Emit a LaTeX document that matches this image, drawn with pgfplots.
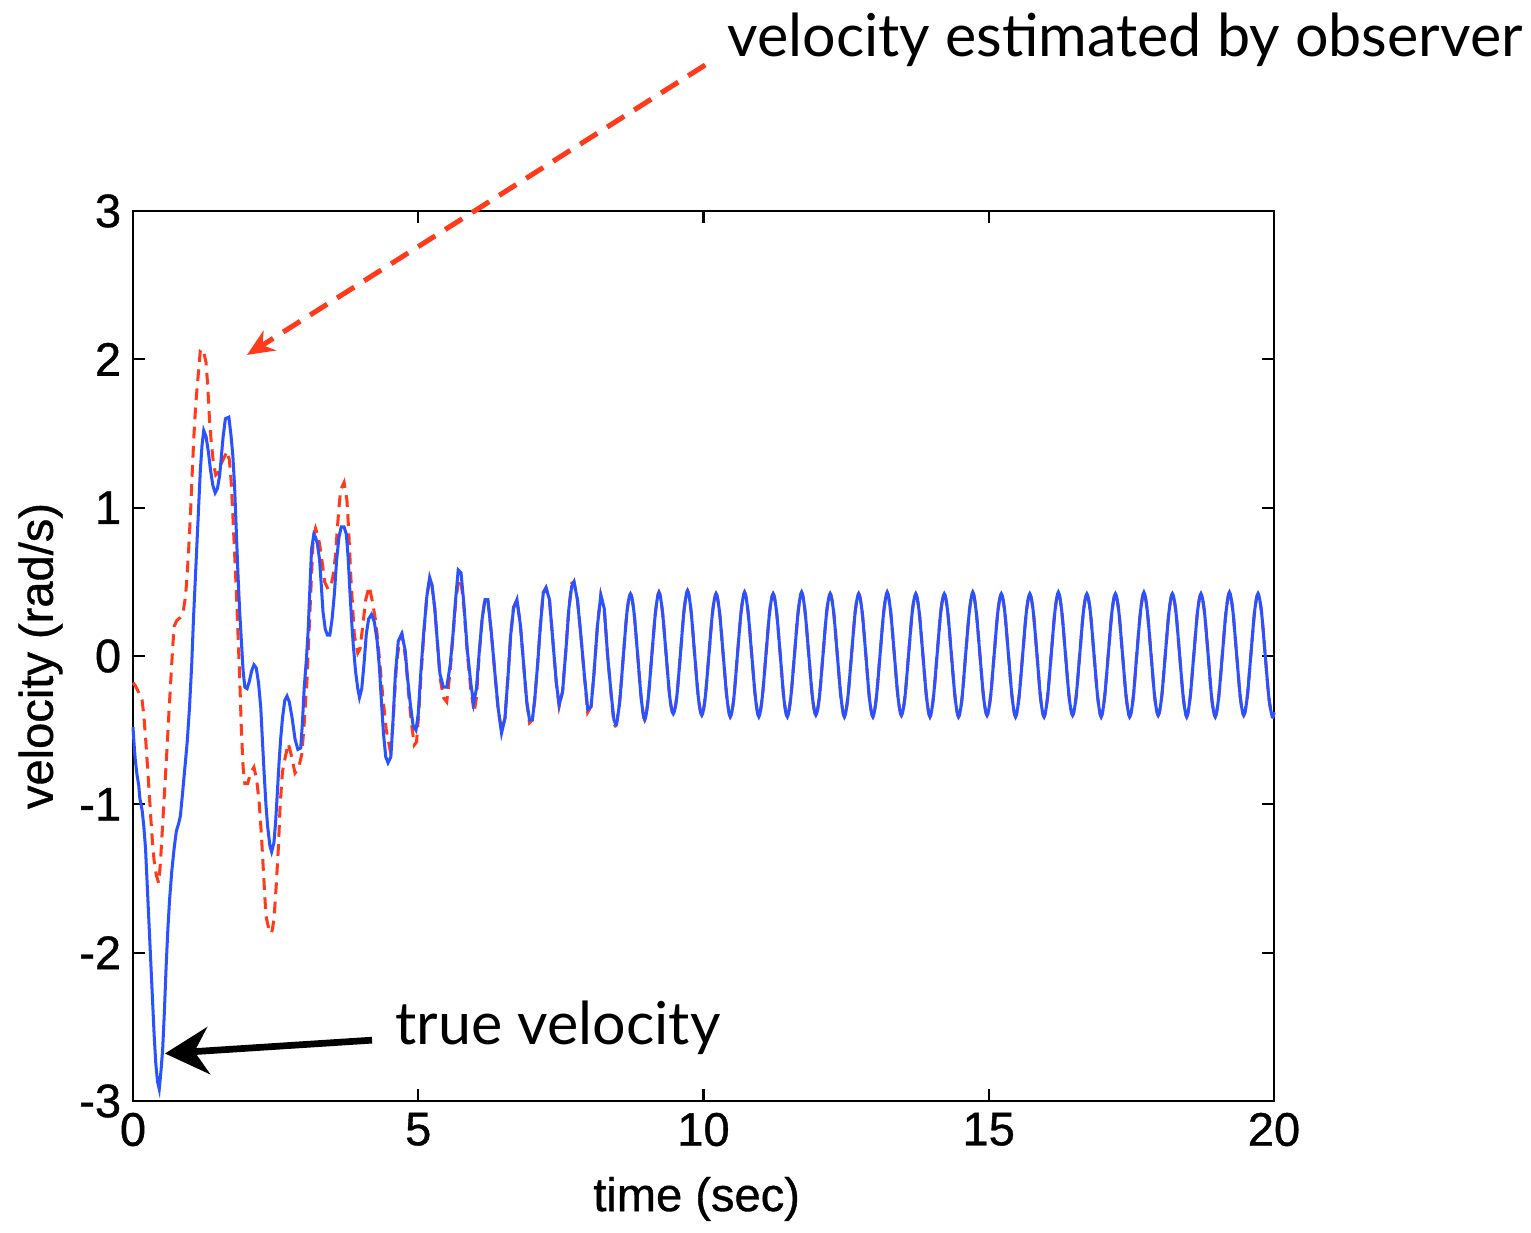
\documentclass[border=0pt]{standalone}
\usepackage{fontspec}
\setmainfont{Liberation Sans}
\newfontfamily\tickfont[FakeBold=0.8]{Liberation Sans}
\newfontfamily\notefont{Lato}
\usepackage{pgfplots}
\usepackage{pgfplotstable}
\pgfplotsset{compat=1.18}
\usetikzlibrary{arrows.meta,calc}
\definecolor{trueblue}{HTML}{2A52FF}
\definecolor{estred}{HTML}{FF3B1B}

% true velocity, transient part
\pgfplotstableread[row sep=\\]{
t v\\
0.00 -0.48\\ 0.02 -0.60\\ 0.04 -0.70\\ 0.07 -0.80\\ 0.10 -0.87\\ 0.12 -0.96\\ 0.16 -1.04\\ 0.19 -1.15\\
0.22 -1.30\\ 0.25 -1.55\\ 0.28 -1.80\\ 0.31 -2.05\\ 0.34 -2.30\\ 0.37 -2.55\\ 0.40 -2.75\\ 0.43 -2.87\\
0.46 -2.92\\ 0.49 -2.80\\ 0.52 -2.65\\ 0.55 -2.40\\ 0.58 -2.10\\ 0.61 -1.85\\ 0.64 -1.65\\ 0.68 -1.45\\
0.72 -1.30\\ 0.76 -1.18\\ 0.80 -1.13\\ 0.83 -1.08\\ 0.87 -0.92\\ 0.91 -0.75\\ 0.95 -0.58\\ 0.99 -0.35\\
1.03 -0.05\\ 1.06 0.25\\ 1.09 0.50\\ 1.12 0.75\\ 1.15 1.00\\ 1.18 1.25\\ 1.21 1.42\\ 1.24 1.52\\
1.28 1.48\\ 1.32 1.38\\ 1.36 1.25\\ 1.40 1.15\\ 1.44 1.10\\ 1.48 1.13\\ 1.52 1.22\\ 1.55 1.35\\
1.58 1.48\\ 1.62 1.60\\ 1.68 1.61\\ 1.72 1.48\\ 1.75 1.35\\ 1.78 1.15\\ 1.81 0.85\\ 1.84 0.55\\
1.87 0.30\\ 1.90 0.10\\ 1.93 -0.10\\ 1.96 -0.21\\ 2.00 -0.22\\ 2.04 -0.17\\ 2.08 -0.10\\ 2.12 -0.06\\
2.16 -0.08\\ 2.20 -0.18\\ 2.24 -0.35\\ 2.27 -0.58\\ 2.30 -0.80\\ 2.33 -1.00\\ 2.36 -1.15\\ 2.40 -1.28\\
2.43 -1.32\\ 2.47 -1.26\\ 2.50 -1.12\\ 2.53 -0.92\\ 2.56 -0.72\\ 2.59 -0.55\\ 2.62 -0.42\\ 2.66 -0.30\\
2.70 -0.27\\ 2.74 -0.31\\ 2.79 -0.42\\ 2.84 -0.56\\ 2.89 -0.63\\ 2.94 -0.62\\ 2.97 -0.45\\ 3.00 -0.22\\
3.04 -0.02\\ 3.07 0.17\\ 3.10 0.45\\ 3.13 0.72\\ 3.17 0.82\\ 3.20 0.80\\ 3.23 0.76\\ 3.27 0.65\\
3.30 0.48\\ 3.33 0.30\\ 3.37 0.18\\ 3.41 0.14\\ 3.45 0.14\\ 3.49 0.25\\ 3.53 0.42\\ 3.57 0.65\\
3.61 0.80\\ 3.65 0.87\\ 3.70 0.87\\ 3.74 0.82\\ 3.77 0.67\\ 3.80 0.45\\ 3.83 0.25\\ 3.86 0.08\\
3.90 -0.10\\ 3.94 -0.22\\ 3.97 -0.28\\ 4.01 -0.22\\ 4.05 -0.05\\ 4.09 0.15\\ 4.13 0.25\\ 4.18 0.28\\
4.23 0.23\\ 4.28 0.10\\ 4.32 -0.08\\ 4.35 -0.28\\ 4.39 -0.52\\ 4.43 -0.68\\ 4.47 -0.72\\ 4.52 -0.68\\
4.56 -0.42\\ 4.60 -0.12\\ 4.65 0.10\\ 4.71 0.15\\ 4.77 0.04\\ 4.81 -0.14\\ 4.86 -0.32\\ 4.91 -0.47\\
4.96 -0.50\\ 5.00 -0.39\\ 5.04 -0.14\\ 5.09 0.13\\ 5.15 0.40\\ 5.20 0.53\\ 5.24 0.48\\ 5.29 0.32\\
5.33 0.12\\ 5.38 -0.12\\ 5.44 -0.21\\ 5.50 -0.21\\ 5.56 -0.06\\ 5.61 0.15\\ 5.65 0.36\\ 5.70 0.58\\
5.75 0.56\\ 5.80 0.35\\ 5.86 0.04\\ 5.92 -0.18\\ 5.97 -0.32\\ 6.02 -0.22\\ 6.07 0.03\\ 6.12 0.25\\
6.17 0.38\\ 6.22 0.38\\ 6.28 0.16\\ 6.34 -0.10\\ 6.40 -0.35\\ 6.46 -0.52\\ 6.52 -0.42\\ 6.58 -0.10\\
6.62 0.14\\ 6.67 0.32\\ 6.73 0.38\\ 6.79 0.21\\ 6.85 -0.07\\ 6.90 -0.30\\ 6.95 -0.43\\ 7.00 -0.43\\
7.04 -0.30\\ 7.09 -0.07\\ 7.14 0.20\\ 7.19 0.42\\ 7.24 0.46\\ 7.30 0.38\\ 7.36 0.10\\ 7.42 -0.18\\
7.47 -0.33\\ 7.53 -0.24\\ 7.59 0.05\\ 7.64 0.32\\ 7.69 0.47\\ 7.73 0.50\\ 7.79 0.38\\ 7.85 0.14\\
7.91 -0.12\\ 7.97 -0.36\\ 8.03 -0.34\\ 8.08 -0.12\\ 8.14 0.20\\ 8.20 0.41\\ 8.26 0.32\\ 8.32 0.00\\
8.38 -0.25\\ 8.43 -0.43\\ 8.47 -0.47\\
}\truetab

% observer estimate, transient part
\pgfplotstableread[row sep=\\]{
t v\\
0.00 -0.18\\ 0.04 -0.20\\ 0.08 -0.23\\ 0.12 -0.26\\ 0.16 -0.30\\ 0.19 -0.40\\ 0.22 -0.55\\ 0.25 -0.72\\
0.28 -0.90\\ 0.31 -1.08\\ 0.34 -1.25\\ 0.37 -1.38\\ 0.41 -1.48\\ 0.45 -1.53\\ 0.48 -1.40\\ 0.51 -1.20\\
0.54 -1.00\\ 0.57 -0.80\\ 0.60 -0.60\\ 0.63 -0.38\\ 0.66 -0.18\\ 0.69 0.02\\ 0.72 0.20\\ 0.77 0.24\\
0.83 0.26\\ 0.88 0.30\\ 0.92 0.40\\ 0.95 0.55\\ 0.98 0.75\\ 1.01 0.98\\ 1.04 1.25\\ 1.07 1.50\\
1.10 1.70\\ 1.14 1.88\\ 1.18 2.06\\ 1.21 2.07\\ 1.25 2.03\\ 1.28 1.98\\ 1.31 1.82\\ 1.34 1.60\\
1.37 1.45\\ 1.41 1.30\\ 1.45 1.22\\ 1.50 1.24\\ 1.55 1.30\\ 1.60 1.34\\ 1.65 1.38\\ 1.69 1.32\\
1.72 1.18\\ 1.75 0.95\\ 1.78 0.70\\ 1.81 0.45\\ 1.84 0.15\\ 1.87 -0.15\\ 1.90 -0.50\\ 1.93 -0.75\\
1.96 -0.86\\ 2.01 -0.86\\ 2.06 -0.79\\ 2.12 -0.75\\ 2.17 -0.84\\ 2.21 -0.98\\ 2.25 -1.20\\ 2.29 -1.48\\
2.33 -1.75\\ 2.38 -1.84\\ 2.43 -1.87\\ 2.47 -1.78\\ 2.51 -1.55\\ 2.55 -1.28\\ 2.58 -1.00\\ 2.62 -0.78\\
2.67 -0.68\\ 2.72 -0.59\\ 2.77 -0.66\\ 2.84 -0.79\\ 2.90 -0.76\\ 2.96 -0.66\\ 3.00 -0.46\\ 3.05 -0.16\\
3.09 0.20\\ 3.13 0.55\\ 3.16 0.80\\ 3.20 0.86\\ 3.25 0.80\\ 3.30 0.68\\ 3.36 0.50\\ 3.42 0.45\\
3.47 0.47\\ 3.51 0.55\\ 3.55 0.68\\ 3.58 0.85\\ 3.61 1.00\\ 3.64 1.12\\ 3.70 1.17\\ 3.75 1.05\\
3.78 0.85\\ 3.82 0.52\\ 3.88 0.14\\ 3.94 0.02\\ 3.98 0.05\\ 4.02 0.18\\ 4.08 0.38\\ 4.14 0.47\\
4.20 0.36\\ 4.26 0.22\\ 4.32 -0.02\\ 4.38 -0.28\\ 4.44 -0.50\\ 4.50 -0.62\\ 4.54 -0.55\\ 4.58 -0.30\\
4.62 -0.05\\ 4.67 0.10\\ 4.72 0.14\\ 4.78 -0.02\\ 4.83 -0.25\\ 4.88 -0.45\\ 4.93 -0.60\\ 4.97 -0.58\\
5.01 -0.38\\ 5.05 -0.12\\ 5.10 0.16\\ 5.15 0.40\\ 5.20 0.52\\ 5.24 0.48\\ 5.29 0.32\\ 5.33 0.12\\
5.38 -0.14\\ 5.44 -0.28\\ 5.50 -0.31\\ 5.56 -0.10\\ 5.61 0.14\\ 5.66 0.38\\ 5.71 0.52\\ 5.75 0.50\\
5.80 0.33\\ 5.86 0.02\\ 5.92 -0.22\\ 5.98 -0.38\\ 6.02 -0.28\\ 6.07 0.02\\ 6.12 0.25\\ 6.17 0.39\\
6.22 0.38\\ 6.28 0.16\\ 6.34 -0.10\\ 6.40 -0.36\\ 6.46 -0.50\\ 6.52 -0.42\\ 6.58 -0.10\\ 6.62 0.14\\
6.67 0.33\\ 6.73 0.38\\ 6.79 0.21\\ 6.85 -0.07\\ 6.90 -0.31\\ 6.95 -0.45\\ 7.00 -0.43\\ 7.04 -0.30\\
7.09 -0.07\\ 7.14 0.20\\ 7.19 0.43\\ 7.24 0.46\\ 7.30 0.38\\ 7.36 0.10\\ 7.42 -0.18\\ 7.47 -0.34\\
7.53 -0.24\\ 7.59 0.05\\ 7.64 0.32\\ 7.69 0.49\\ 7.73 0.50\\ 7.79 0.38\\ 7.85 0.14\\ 7.91 -0.13\\
7.97 -0.38\\ 8.03 -0.34\\ 8.08 -0.12\\ 8.14 0.20\\ 8.20 0.41\\ 8.26 0.32\\ 8.32 0.00\\ 8.38 -0.26\\
8.43 -0.46\\ 8.47 -0.48\\
}\esttab

% steady oscillation, both curves lie on top of each other
\pgfplotstableread[row sep=\\]{
t v\\
8.47 -0.47\\ 8.53 -0.31\\ 8.595 0.00\\ 8.66 0.30\\
8.72 0.42\\ 8.78 0.30\\ 8.845 0.01\\ 8.91 -0.29\\ 8.97 -0.43\\ 9.03 -0.29\\ 9.095 0.01\\ 9.16 0.30\\
9.22 0.43\\ 9.28 0.30\\ 9.345 0.01\\ 9.41 -0.28\\ 9.47 -0.39\\ 9.53 -0.28\\ 9.595 0.01\\ 9.66 0.31\\
9.72 0.44\\ 9.78 0.31\\ 9.845 0.01\\ 9.91 -0.28\\ 9.97 -0.40\\ 10.03 -0.28\\ 10.095 0.01\\ 10.16 0.30\\
10.22 0.42\\ 10.28 0.30\\ 10.345 0.01\\ 10.41 -0.28\\ 10.47 -0.41\\ 10.53 -0.29\\ 10.595 0.01\\ 10.66 0.30\\
10.72 0.43\\ 10.78 0.30\\ 10.845 0.01\\ 10.91 -0.28\\ 10.97 -0.41\\ 11.03 -0.28\\ 11.095 0.01\\ 11.16 0.30\\
11.22 0.42\\ 11.28 0.30\\ 11.345 0.01\\ 11.41 -0.29\\ 11.47 -0.41\\ 11.53 -0.28\\ 11.595 0.01\\ 11.66 0.30\\
11.72 0.43\\ 11.78 0.30\\ 11.845 0.01\\ 11.91 -0.28\\ 11.97 -0.40\\ 12.03 -0.28\\ 12.095 0.01\\ 12.16 0.30\\
12.22 0.42\\ 12.28 0.30\\ 12.345 0.01\\ 12.41 -0.28\\ 12.47 -0.41\\ 12.53 -0.28\\ 12.595 0.01\\ 12.66 0.30\\
12.72 0.42\\ 12.78 0.30\\ 12.845 0.01\\ 12.91 -0.29\\ 12.97 -0.41\\ 13.03 -0.28\\ 13.095 0.01\\ 13.16 0.30\\
13.22 0.43\\ 13.28 0.30\\ 13.345 0.01\\ 13.41 -0.28\\ 13.47 -0.40\\ 13.53 -0.28\\ 13.595 0.01\\ 13.66 0.30\\
13.72 0.42\\ 13.78 0.30\\ 13.845 0.01\\ 13.91 -0.28\\ 13.97 -0.41\\ 14.03 -0.28\\ 14.095 0.01\\ 14.16 0.30\\
14.22 0.42\\ 14.28 0.30\\ 14.345 0.01\\ 14.41 -0.28\\ 14.47 -0.41\\ 14.53 -0.29\\ 14.595 0.01\\ 14.66 0.30\\
14.72 0.43\\ 14.78 0.30\\ 14.845 0.01\\ 14.91 -0.28\\ 14.97 -0.40\\ 15.03 -0.28\\ 15.095 0.01\\ 15.16 0.30\\
15.22 0.42\\ 15.28 0.30\\ 15.345 0.01\\ 15.41 -0.28\\ 15.47 -0.41\\ 15.53 -0.28\\ 15.595 0.01\\ 15.66 0.30\\
15.72 0.42\\ 15.78 0.30\\ 15.845 0.01\\ 15.91 -0.29\\ 15.97 -0.41\\ 16.03 -0.28\\ 16.095 0.01\\ 16.16 0.30\\
16.22 0.43\\ 16.28 0.30\\ 16.345 0.01\\ 16.41 -0.28\\ 16.47 -0.40\\ 16.53 -0.28\\ 16.595 0.01\\ 16.66 0.30\\
16.72 0.42\\ 16.78 0.30\\ 16.845 0.01\\ 16.91 -0.28\\ 16.97 -0.41\\ 17.03 -0.28\\ 17.095 0.01\\ 17.16 0.30\\
17.22 0.42\\ 17.28 0.30\\ 17.345 0.01\\ 17.41 -0.28\\ 17.47 -0.41\\ 17.53 -0.29\\ 17.595 0.01\\ 17.66 0.30\\
17.72 0.43\\ 17.78 0.30\\ 17.845 0.01\\ 17.91 -0.28\\ 17.97 -0.40\\ 18.03 -0.28\\ 18.095 0.01\\ 18.16 0.30\\
18.22 0.42\\ 18.28 0.30\\ 18.345 0.01\\ 18.41 -0.28\\ 18.47 -0.41\\ 18.53 -0.28\\ 18.595 0.01\\ 18.66 0.30\\
18.72 0.42\\ 18.78 0.30\\ 18.845 0.01\\ 18.91 -0.29\\ 18.97 -0.41\\ 19.03 -0.28\\ 19.095 0.01\\ 19.16 0.30\\
19.22 0.43\\ 19.28 0.30\\ 19.345 0.01\\ 19.41 -0.28\\ 19.47 -0.40\\ 19.53 -0.28\\ 19.595 0.01\\ 19.66 0.30\\
19.72 0.42\\ 19.78 0.30\\ 19.845 0.01\\ 19.91 -0.28\\ 19.97 -0.41\\ 20.00 -0.38\\
}\steadytab

\begin{document}
\begin{tikzpicture}
\begin{axis}[
  scale only axis, width=11.924cm, height=9.301cm,
  xmin=0, xmax=20, ymin=-3, ymax=3,
  xtick={0,5,10,15,20}, xticklabels={0,5,10,15,20},
  ytick={-3,-2,-1,0,1,2,3}, yticklabels={-3,-2,-1,0,1,2,3},
  tick align=inside, major tick length=3.6pt,
  axis line style={line width=0.8pt},
  tick style={line width=0.6pt,black},
  ticklabel style={font=\tickfont\fontsize{14}{16}\selectfont},
  label style={font=\tickfont\fontsize{14}{16}\selectfont},
  xlabel={time (sec)}, ylabel={velocity (rad/s)},
  xlabel style={at={(axis description cs:0.494,-0.110)},anchor=center},
  ylabel style={at={(axis description cs:-0.081,0.5)},anchor=center},
  clip=false]
  % observer estimate (dashed red) underneath
  \addplot[estred, line width=0.9pt, dash pattern=on 3.5pt off 2.2pt] table[x=t,y=v]{\esttab};
  \addplot[estred, line width=0.9pt, dash pattern=on 3.5pt off 2.2pt, smooth, tension=0.5] table[x=t,y=v]{\steadytab};
  % true velocity (solid blue) on top
  \addplot[trueblue, line width=0.9pt] table[x=t,y=v]{\truetab};
  \addplot[trueblue, line width=0.9pt, smooth, tension=0.5] table[x=t,y=v]{\steadytab};
  % annotations
  \draw[estred, line width=1.5pt, dash pattern=on 6pt off 3.5pt,
    -{Stealth[length=8pt,width=7pt]}] (axis cs:10.03,3.984) -- (axis cs:2.0,2.03);
  \node[anchor=base west, inner sep=0pt, font=\notefont\fontsize{17.6}{20}\selectfont]
    at (axis cs:10.41,4.04) {velocity estimated by observer};
  \draw[black, line width=2pt, -{Stealth[length=13pt,width=14pt]}]
    (axis cs:4.19,-2.59) -- (axis cs:0.56,-2.68);
  \node[anchor=base west, inner sep=0pt, font=\notefont\fontsize{17.6}{20}\selectfont]
    at (axis cs:4.59,-2.62) {true velocity};
\end{axis}
\path ($(current axis.south west)+(-1.390cm,-1.338cm)$) rectangle ($(current axis.north east)+(2.686cm,2.205cm)$);
\end{tikzpicture}
\end{document}
